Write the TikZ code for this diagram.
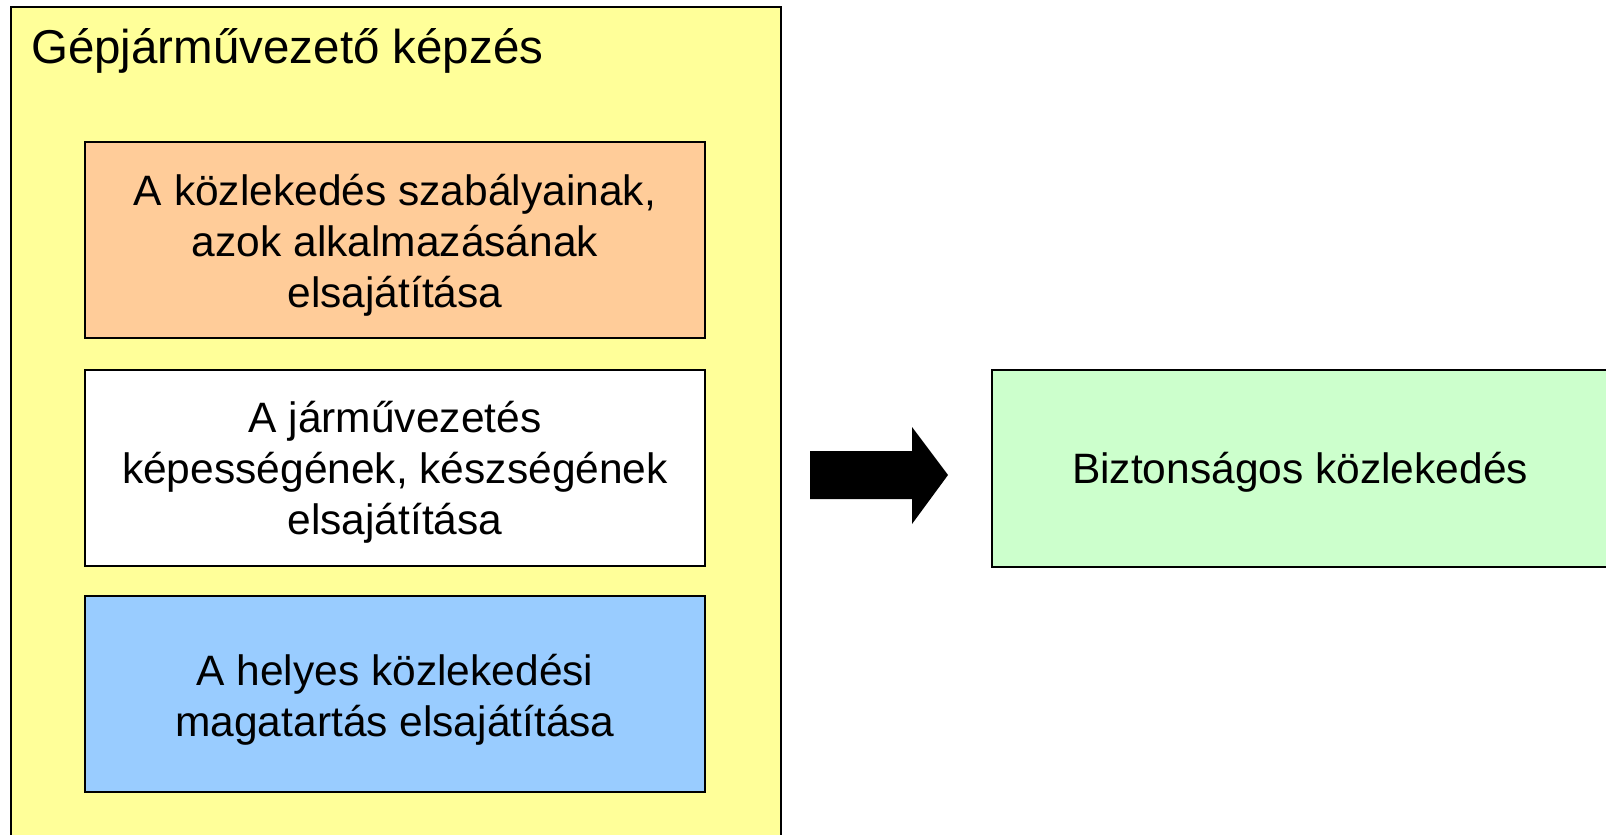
\documentclass[tikz,border=0pt]{standalone}
\usepackage{fontspec}
\setmainfont{Liberation Sans}
\definecolor{outeryellow}{HTML}{FFFF99}
\definecolor{boxorange}{HTML}{FFCC99}
\definecolor{boxblue}{HTML}{99CCFF}
\definecolor{boxgreen}{HTML}{CCFFCC}
\tikzset{
  box/.style={draw=black, line width=2pt, rectangle, inner sep=0pt,
    minimum width=620pt, minimum height=196pt},
  boxtext/.style={inner sep=0pt, align=center,
    font=\fontsize{42.5}{51}\selectfont},
}
\begin{document}
\begin{tikzpicture}[x=1pt,y=-1pt]
\useasboundingbox (0,0) rectangle (1606,835);
\clip (0,0) rectangle (1606,835);
\fill[white] (0,0) rectangle (1606,835);
\node[draw=black, line width=2pt, fill=outeryellow, rectangle, inner sep=0pt,
  minimum width=770pt, minimum height=840pt, anchor=north west] (outer) at (10,6) {};
\node[anchor=base west, inner sep=0pt, font=\fontsize{47.5}{57}\selectfont] (title) at (31,63) {Gépjárművezető képzés};
\node[box, fill=boxorange] (rules) at (395,240) {};
\node[box, fill=white] (skills) at (395,467.5) {};
\node[box, fill=boxblue] (behav) at (395,694) {};
\node[boxtext] (rulestext) at ([yshift=-5pt]rules.center) {A közlekedés szabályainak,\\azok alkalmazásának\\elsajátítása};
\node[boxtext] (skillstext) at ([yshift=-5pt]skills.center) {A járművezetés\\képességének, készségének\\elsajátítása};
\node[boxtext] (behavtext) at ([yshift=-6pt]behav.center) {A helyes közlekedési\\magatartás elsajátítása};
\node[draw=black, line width=2pt, fill=boxgreen, rectangle, inner sep=0pt,
  minimum width=617pt, minimum height=197pt, anchor=north west] (safe) at (991,369) {};
\node[boxtext] (safetext) at (1300,472) {Biztonságos közlekedés};
\fill[black] (810,451) -- (912,451) -- (912,427) -- (948,475) -- (912,524) -- (912,499) -- (810,499) -- cycle;
\end{tikzpicture}
\end{document}
